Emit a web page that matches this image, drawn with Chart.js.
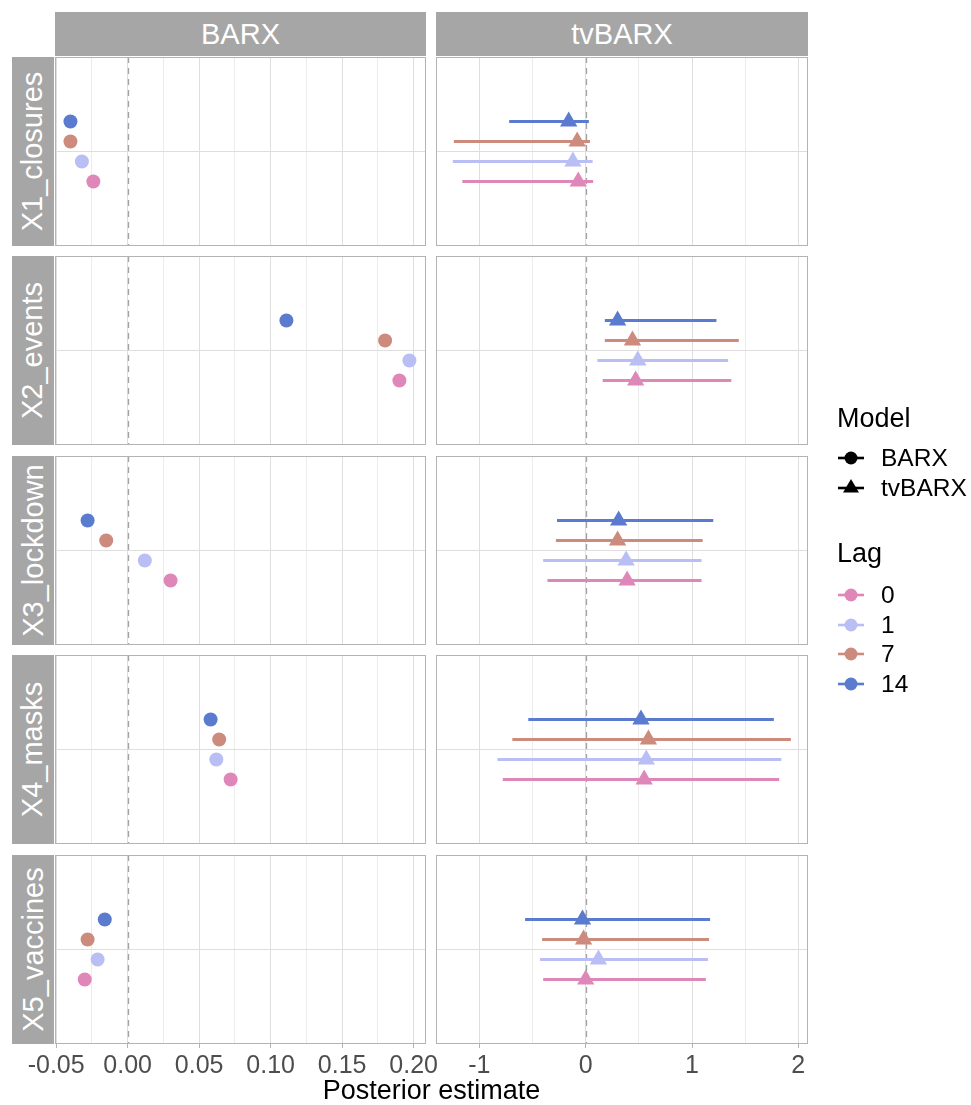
<!DOCTYPE html>
<html>
<head>
<meta charset="utf-8">
<script src="https://cdn.jsdelivr.net/npm/chart.js@4.4.1/dist/chart.umd.min.js"></script>
<style>
body { margin: 0; background: #fff; font-family: "Liberation Sans", Arial, sans-serif; }
#wrap { position: relative; width: 971px; height: 1105px; overflow: hidden; }
.strip { position: absolute; background: #a6a6a6; color: #fff; font-size: 29px;
         display: flex; align-items: center; justify-content: center; }
.strip span { white-space: nowrap; }
.rstrip span { transform: rotate(-90deg); }
canvas { position: absolute; }
.lg { position: absolute; color: #000; white-space: nowrap; }
</style>
</head>
<body>
<div id="wrap"></div>
<script>
// facets
const models = ['BARX', 'tvBARX'];
const variables = ['X1_closures', 'X2_events', 'X3_lockdown', 'X4_masks', 'X5_vaccines'];

// lags, in order 0, 1, 7, 14
const lags = ['0', '1', '7', '14'];
const lagColors = ['#de87b8', '#b9bef4', '#cc8b7c', '#5b7bcf'];
const lagDodge = [-0.3, -0.1, 0.1, 0.3];

// BARX posterior estimates (rows = variables, cols = lags)
const barxEst = [
    [-0.024, -0.032, -0.040, -0.040],
    [0.190, 0.197, 0.180, 0.111],
    [0.030, 0.012, -0.015, -0.028],
    [0.072, 0.062, 0.064, 0.058],
    [-0.030, -0.021, -0.028, -0.016]
];

// tvBARX posterior estimates with interval ends
const tvEst = [
    [-0.07, -0.12, -0.08, -0.16],
    [0.47, 0.49, 0.44, 0.30],
    [0.39, 0.38, 0.30, 0.31],
    [0.55, 0.57, 0.59, 0.52],
    [0.00, 0.12, -0.02, -0.03]
];
const tvLow = [
    [-1.16, -1.25, -1.24, -0.72],
    [0.16, 0.11, 0.18, 0.18],
    [-0.36, -0.40, -0.28, -0.27],
    [-0.78, -0.83, -0.69, -0.54],
    [-0.40, -0.43, -0.41, -0.57]
];
const tvHigh = [
    [0.07, 0.065, 0.04, 0.03],
    [1.37, 1.34, 1.44, 1.23],
    [1.09, 1.09, 1.10, 1.20],
    [1.82, 1.84, 1.93, 1.77],
    [1.13, 1.15, 1.16, 1.17]
];

// axis ticks (major + minor) and ranges
const barxTicks = [-0.05, -0.025, 0, 0.025, 0.05, 0.075, 0.10, 0.125, 0.15, 0.175, 0.20];
const tvTicks = [-1, -0.5, 0, 0.5, 1, 1.5, 2];
const xRanges = [[-0.0508, 0.2086], [-1.408, 2.091]];

Chart.defaults.font.family = '"Liberation Sans", Arial, sans-serif';

const wrap = document.getElementById('wrap');
const colX = [55, 436];
const colW = [371, 372];
const rowY = [57, 256, 456, 655, 855];
const panelH = 189;
const pad = 40;

function isMajor(col, v) {
    if (col === 0) return Math.abs(v / 0.05 - Math.round(v / 0.05)) < 1e-6;
    return Number.isInteger(v);
}

// dashed zero line + panel frame
const panelDeco = {
    id: 'panelDeco',
    beforeDatasetsDraw(chart) {
        const { ctx, chartArea: a, scales: { x } } = chart;
        const px = Math.round(x.getPixelForValue(0)) + 0.5;
        ctx.save();
        ctx.strokeStyle = '#a3a3a3';
        ctx.lineWidth = 1.3;
        ctx.setLineDash([6, 5]);
        ctx.beginPath();
        ctx.moveTo(px, a.top);
        ctx.lineTo(px, a.bottom);
        ctx.stroke();
        ctx.restore();
    },
    afterDraw(chart) {
        const { ctx, chartArea: a } = chart;
        ctx.save();
        ctx.strokeStyle = '#b3b3b3';
        ctx.lineWidth = 1;
        ctx.strokeRect(a.left + 0.5, a.top + 0.5, a.width - 1, a.height - 1);
        ctx.restore();
    }
};

function el(cls, style, html) {
    const d = document.createElement('div');
    d.className = cls;
    Object.assign(d.style, style);
    d.innerHTML = html;
    wrap.appendChild(d);
    return d;
}

// column strips
models.forEach((m, c) => {
    el('strip', { left: colX[c] + 'px', top: '12px', width: colW[c] + 'px', height: '44px' }, '<span>' + m + '</span>');
});
// row strips
variables.forEach((v, r) => {
    el('strip rstrip', { left: '12px', top: rowY[r] + 'px', width: '42px', height: panelH + 'px' }, '<span>' + v + '</span>');
});

function makePanel(r, c) {
    const bottom = r === variables.length - 1;
    const cv = document.createElement('canvas');
    const w = colW[c] + 2 * pad;
    const h = panelH + (bottom ? 60 : 0);
    cv.width = w; cv.height = h;
    cv.style.left = (colX[c] - pad) + 'px';
    cv.style.top = rowY[r] + 'px';
    wrap.appendChild(cv);

    const datasets = [];
    if (c === 0) {
        datasets.push({
            data: lags.map((l, j) => ({ x: barxEst[r][j], y: lagDodge[j] })),
            pointStyle: 'circle',
            pointRadius: 7,
            pointBorderWidth: 0,
            pointBackgroundColor: lagColors,
            showLine: false
        });
    } else {
        lags.forEach((l, j) => {
            datasets.push({
                data: [{ x: tvLow[r][j], y: lagDodge[j] }, { x: tvHigh[r][j], y: lagDodge[j] }],
                showLine: true,
                borderColor: lagColors[j],
                borderWidth: 3,
                pointRadius: 0
            });
        });
        datasets.push({
            data: lags.map((l, j) => ({ x: tvEst[r][j], y: lagDodge[j] })),
            pointStyle: 'triangle',
            pointRadius: 10,
            pointBorderWidth: 0,
            pointBackgroundColor: lagColors,
            showLine: false
        });
    }

    const ticks = c === 0 ? barxTicks : tvTicks;
    new Chart(cv, {
        type: 'scatter',
        data: { datasets },
        options: {
            responsive: false,
            animation: false,
            events: [],
            layout: { autoPadding: false, padding: { left: pad, right: pad, top: 0, bottom: 0 } },
            plugins: { legend: { display: false }, tooltip: { enabled: false } },
            scales: {
                x: {
                    type: 'linear',
                    min: xRanges[c][0],
                    max: xRanges[c][1],
                    afterBuildTicks: s => { s.ticks = ticks.map(v => ({ value: v })); },
                    afterFit: s => { s.height = bottom ? 60 : 0; },
                    border: { display: false },
                    grid: {
                        color: ctx => isMajor(c, ctx.tick.value) ? '#dedede' : '#ececec',
                        lineWidth: 1,
                        drawTicks: bottom,
                        tickLength: 4,
                        tickColor: ctx => isMajor(c, ctx.tick.value) ? '#b3b3b3' : 'rgba(0,0,0,0)'
                    },
                    ticks: {
                        display: bottom,
                        autoSkip: false,
                        maxRotation: 0,
                        padding: 3,
                        color: '#4d4d4d',
                        font: { size: 25 },
                        callback: v => isMajor(c, v) ? (c === 0 ? v.toFixed(2) : String(v)) : ''
                    }
                },
                y: {
                    type: 'linear',
                    min: -0.945,
                    max: 0.945,
                    afterBuildTicks: s => { s.ticks = [{ value: 0 }]; },
                    afterFit: s => { s.width = 0; },
                    border: { display: false },
                    grid: { color: '#dedede', lineWidth: 1, drawTicks: false },
                    ticks: { display: false }
                }
            }
        },
        plugins: [panelDeco]
    });
}

for (let r = 0; r < variables.length; r++) {
    for (let c = 0; c < models.length; c++) makePanel(r, c);
}

// axis title
el('lg', { left: '55px', width: '753px', top: '1075px', textAlign: 'center', fontSize: '27px', lineHeight: '30px' }, 'Posterior estimate');

// legend
function key(color, shape) {
    const mark = shape === 'circle'
        ? '<circle cx="14" cy="9" r="6.5" fill="' + color + '"/>'
        : '<polygon points="14,0 6,13.5 22,13.5" fill="' + color + '"/>';
    return '<svg width="28" height="18" style="display:block"><line x1="1" y1="9" x2="27" y2="9" stroke="' + color + '" stroke-width="2.6"/>' + mark + '</svg>';
}
el('lg', { left: '837px', top: '403px', fontSize: '27px', lineHeight: '30px' }, 'Model');
[['BARX', 'circle', 458], ['tvBARX', 'triangle', 488]].forEach(([t, s, y]) => {
    el('lg', { left: '837px', top: (y - 9) + 'px' }, key('#000', s));
    el('lg', { left: '881px', top: (y - 15) + 'px', fontSize: '24.5px', lineHeight: '30px' }, t);
});
el('lg', { left: '837px', top: '538px', fontSize: '27px', lineHeight: '30px' }, 'Lag');
const lagKeyY = [595, 625, 654, 684];
lags.forEach((l, j) => {
    el('lg', { left: '837px', top: (lagKeyY[j] - 9) + 'px' }, key(lagColors[j], 'circle'));
    el('lg', { left: '881px', top: (lagKeyY[j] - 15) + 'px', fontSize: '24.5px', lineHeight: '30px' }, l);
});
</script>
</body>
</html>
